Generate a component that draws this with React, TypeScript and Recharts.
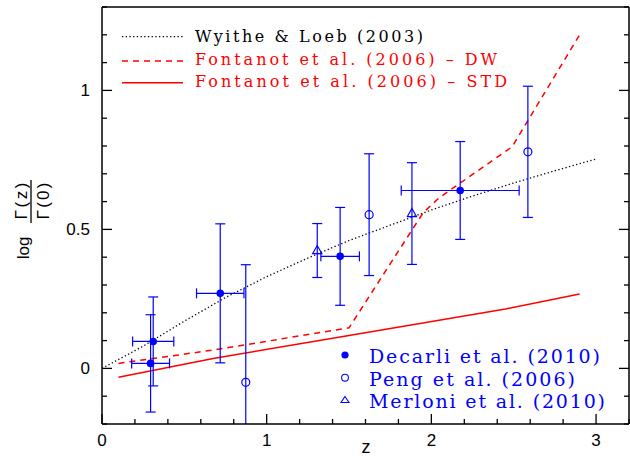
import { ComposedChart, XAxis, YAxis, Line, Scatter, ErrorBar } from 'recharts';

// axis ticks
const X_TICKS = [0, 0.2, 0.4, 0.6, 0.8, 1, 1.2, 1.4, 1.6, 1.8, 2, 2.2, 2.4, 2.6, 2.8, 3, 3.2];
const X_LABELS = [0, 1, 2, 3];
const Y_TICKS = [-0.2, -0.1, 0, 0.1, 0.2, 0.3, 0.4, 0.5, 0.6, 0.7, 0.8, 0.9, 1, 1.1, 1.2, 1.3];
const Y_LABELS = [0, 0.5, 1];

// models
const wyithe = [
  { x: 0, y: 0 },
  { x: 0.25, y: 0.08 },
  { x: 0.5, y: 0.17 },
  { x: 0.75, y: 0.255 },
  { x: 1, y: 0.33 },
  { x: 1.25, y: 0.397 },
  { x: 1.5, y: 0.46 },
  { x: 1.75, y: 0.515 },
  { x: 2, y: 0.57 },
  { x: 2.25, y: 0.62 },
  { x: 2.5, y: 0.667 },
  { x: 2.75, y: 0.711 },
  { x: 3, y: 0.753 },
];

const fontanotDW = [
  { x: 0.1, y: 0.018 },
  { x: 0.675, y: 0.066 },
  { x: 1.5, y: 0.146 },
  { x: 1.95, y: 0.56 },
  { x: 2.05, y: 0.615 },
  { x: 2.49, y: 0.797 },
  { x: 2.9, y: 1.2 },
];

const fontanotSTD = [
  { x: 0.1, y: -0.032 },
  { x: 0.675, y: 0.036 },
  { x: 1.5, y: 0.118 },
  { x: 2.45, y: 0.214 },
  { x: 2.9, y: 0.268 },
];

// observations
const decarli = [
  { x: 0.295, y: 0.018, ex: 0.115, ey: 0.175 },
  { x: 0.311, y: 0.097, ex: 0.125, ey: 0.16 },
  { x: 0.718, y: 0.27, ex: 0.144, ey: 0.25 },
  { x: 1.446, y: 0.403, ex: 0.117, ey: 0.176 },
  { x: 2.175, y: 0.64, ex: 0.358, ey: 0.176 },
];

const peng = [
  { x: 0.873, y: -0.05, ey: 0.423 },
  { x: 1.622, y: 0.553, ey: 0.219 },
  { x: 2.586, y: 0.779, ey: 0.236 },
];

const merloni = [
  { x: 1.307, y: 0.424, ey: 0.097 },
  { x: 1.882, y: 0.557, ey: 0.183 },
];

const BLUE = '#0000ff';
const RED = '#ff0000';
const SANS = '"Liberation Sans", Arial, sans-serif';
const SERIF = '"DejaVu Serif", serif';

const isMajor = (v: number, list: number[]) => list.some((m) => Math.abs(m - v) < 1e-6);

const BottomTick = ({ x, y, payload }: any) => {
  const major = isMajor(payload.value, X_LABELS);
  return (
    <g>
      <line x1={x} x2={x} y1={y} y2={y - (major ? 10 : 5)} stroke="#000" strokeWidth={1.3} />
      {major && (
        <text x={x} y={y + 22} textAnchor="middle" fontSize={17} fontFamily={SANS} fill="#000">
          {payload.value}
        </text>
      )}
    </g>
  );
};

const TopTick = ({ x, y, payload }: any) => {
  const major = isMajor(payload.value, X_LABELS);
  return <line x1={x} x2={x} y1={y} y2={y + (major ? 10 : 5)} stroke="#000" strokeWidth={1.3} />;
};

const LeftTick = ({ x, y, payload }: any) => {
  const major = isMajor(payload.value, Y_LABELS);
  return (
    <g>
      <line x1={x} x2={x + (major ? 10 : 5)} y1={y} y2={y} stroke="#000" strokeWidth={1.3} />
      {major && (
        <text x={x - 12} y={y + 6} textAnchor="end" fontSize={17} fontFamily={SANS} fill="#000">
          {payload.value}
        </text>
      )}
    </g>
  );
};

const RightTick = ({ x, y, payload }: any) => {
  const major = isMajor(payload.value, Y_LABELS);
  return <line x1={x} x2={x - (major ? 10 : 5)} y1={y} y2={y} stroke="#000" strokeWidth={1.3} />;
};

const Dot = (p: any) => <circle cx={p.cx} cy={p.cy} r={3.8} fill={BLUE} />;
const Ring = (p: any) => <circle cx={p.cx} cy={p.cy} r={4} fill="none" stroke={BLUE} strokeWidth={1.2} />;
const Tri = (p: any) => (
  <path
    d={`M${p.cx},${p.cy - 5} L${p.cx + 4.6},${p.cy + 3} L${p.cx - 4.6},${p.cy + 3} Z`}
    fill="none"
    stroke={BLUE}
    strokeWidth={1.2}
  />
);

const axisLine = { stroke: '#000', strokeWidth: 1.5 };
const errProps = { width: 5, stroke: BLUE, strokeWidth: 1.2, isAnimationActive: false, clipPath: 'url(#plotArea)' };

export default function App() {
  return (
    <div style={{ position: 'absolute', left: 0, top: 0, width: 630, height: 460, background: '#fff' }}>
      <svg width={0} height={0} style={{ position: 'absolute' }}>
        <defs>
          <clipPath id="plotArea">
            <rect x={102} y={7} width={527} height={417} />
          </clipPath>
        </defs>
      </svg>
      <ComposedChart width={630} height={460} margin={{ top: 0, right: 0, bottom: 0, left: 0 }}>
        <XAxis
          xAxisId="b"
          dataKey="x"
          type="number"
          domain={[0, 3.2]}
          ticks={X_TICKS}
          interval={0}
          height={36}
          tickSize={0}
          tickMargin={0}
          tickLine={false}
          axisLine={axisLine}
          tick={<BottomTick />}
          allowDataOverflow
        />
        <XAxis
          xAxisId="t"
          orientation="top"
          type="number"
          domain={[0, 3.2]}
          ticks={X_TICKS}
          interval={0}
          height={7}
          tickSize={0}
          tickMargin={0}
          tickLine={false}
          axisLine={axisLine}
          tick={<TopTick />}
          allowDataOverflow
        />
        <YAxis
          yAxisId="l"
          dataKey="y"
          type="number"
          domain={[-0.2, 1.3]}
          ticks={Y_TICKS}
          interval={0}
          width={102}
          tickSize={0}
          tickMargin={0}
          tickLine={false}
          axisLine={axisLine}
          tick={<LeftTick />}
          allowDataOverflow
        />
        <YAxis
          yAxisId="r"
          orientation="right"
          type="number"
          domain={[-0.2, 1.3]}
          ticks={Y_TICKS}
          interval={0}
          width={1}
          tickSize={0}
          tickMargin={0}
          tickLine={false}
          axisLine={axisLine}
          tick={<RightTick />}
          allowDataOverflow
        />

        <Line
          data={wyithe}
          dataKey="y"
          xAxisId="b"
          yAxisId="l"
          type="linear"
          stroke="#000"
          strokeWidth={1.3}
          strokeDasharray="1.3 2.4"
          dot={false}
          isAnimationActive={false}
        />
        <Line
          data={fontanotDW}
          dataKey="y"
          xAxisId="b"
          yAxisId="l"
          type="linear"
          stroke={RED}
          strokeWidth={1.5}
          strokeDasharray="6 5"
          dot={false}
          isAnimationActive={false}
        />
        <Line
          data={fontanotSTD}
          dataKey="y"
          xAxisId="b"
          yAxisId="l"
          type="linear"
          stroke={RED}
          strokeWidth={1.5}
          dot={false}
          isAnimationActive={false}
        />

        <Scatter data={decarli} xAxisId="b" yAxisId="l" shape={Dot} isAnimationActive={false}>
          <ErrorBar dataKey="ex" direction="x" {...errProps} />
          <ErrorBar dataKey="ey" direction="y" {...errProps} />
        </Scatter>
        <Scatter data={peng} xAxisId="b" yAxisId="l" shape={Ring} isAnimationActive={false}>
          <ErrorBar dataKey="ey" direction="y" {...errProps} />
        </Scatter>
        <Scatter data={merloni} xAxisId="b" yAxisId="l" shape={Tri} isAnimationActive={false}>
          <ErrorBar dataKey="ey" direction="y" {...errProps} />
        </Scatter>
      </ComposedChart>

      <svg
        width={630}
        height={460}
        style={{ position: 'absolute', left: 0, top: 0, pointerEvents: 'none' }}
      >
        {/* model legend */}
        <line x1={122} x2={183} y1={36.7} y2={36.7} stroke="#000" strokeWidth={1.3} strokeDasharray="1.3 2.4" />
        <line x1={122} x2={183} y1={61} y2={61} stroke={RED} strokeWidth={1.5} strokeDasharray="6 5" />
        <line x1={122} x2={183} y1={82.7} y2={82.7} stroke={RED} strokeWidth={1.5} />
        <g fontFamily={SERIF} fontSize={16}>
          <text x={195} y={42} fill="#000" textLength={228} lengthAdjust="spacing">
            Wyithe &amp; Loeb (2003)
          </text>
          <text x={195} y={65} fill={RED} textLength={302} lengthAdjust="spacing">
            Fontanot et al. (2006) – DW
          </text>
          <text x={195} y={87} fill={RED} textLength={312} lengthAdjust="spacing">
            Fontanot et al. (2006) – STD
          </text>
        </g>

        {/* data legend */}
        <circle cx={345} cy={355} r={3.6} fill={BLUE} />
        <circle cx={345} cy={377.7} r={3.4} fill="none" stroke={BLUE} strokeWidth={1.1} />
        <path d="M345,396.5 L349,402.5 L341,402.5 Z" fill="none" stroke={BLUE} strokeWidth={1.1} />
        <g fontFamily={SERIF} fontSize={19} fill={BLUE}>
          <text x={369} y={363} textLength={231} lengthAdjust="spacing">
            Decarli et al. (2010)
          </text>
          <text x={369} y={385.5} textLength={206} lengthAdjust="spacing">
            Peng et al. (2006)
          </text>
          <text x={369} y={408} textLength={236} lengthAdjust="spacing">
            Merloni et al. (2010)
          </text>
        </g>

        {/* y label */}
        <text
          transform="translate(29,248) rotate(-90)"
          textAnchor="middle"
          fontFamily={SANS}
          fontSize={17}
          fill="#000"
        >
          log
        </text>
        <text
          transform="translate(27,201) rotate(-90)"
          textAnchor="middle"
          fontFamily={SANS}
          fontSize={17}
          fill="#000"
          textLength={37}
          lengthAdjust="spacing"
        >
          Γ(z)
        </text>
        <line x1={31} x2={31} y1={180} y2={223} stroke="#000" strokeWidth={1.3} />
        <text
          transform="translate(49,201) rotate(-90)"
          textAnchor="middle"
          fontFamily={SANS}
          fontSize={17}
          fill="#000"
          textLength={37}
          lengthAdjust="spacing"
        >
          Γ(0)
        </text>

        {/* x label */}
        <text x={366} y={453} textAnchor="middle" fontFamily={SANS} fontSize={18} fill="#000">
          z
        </text>
      </svg>
    </div>
  );
}
